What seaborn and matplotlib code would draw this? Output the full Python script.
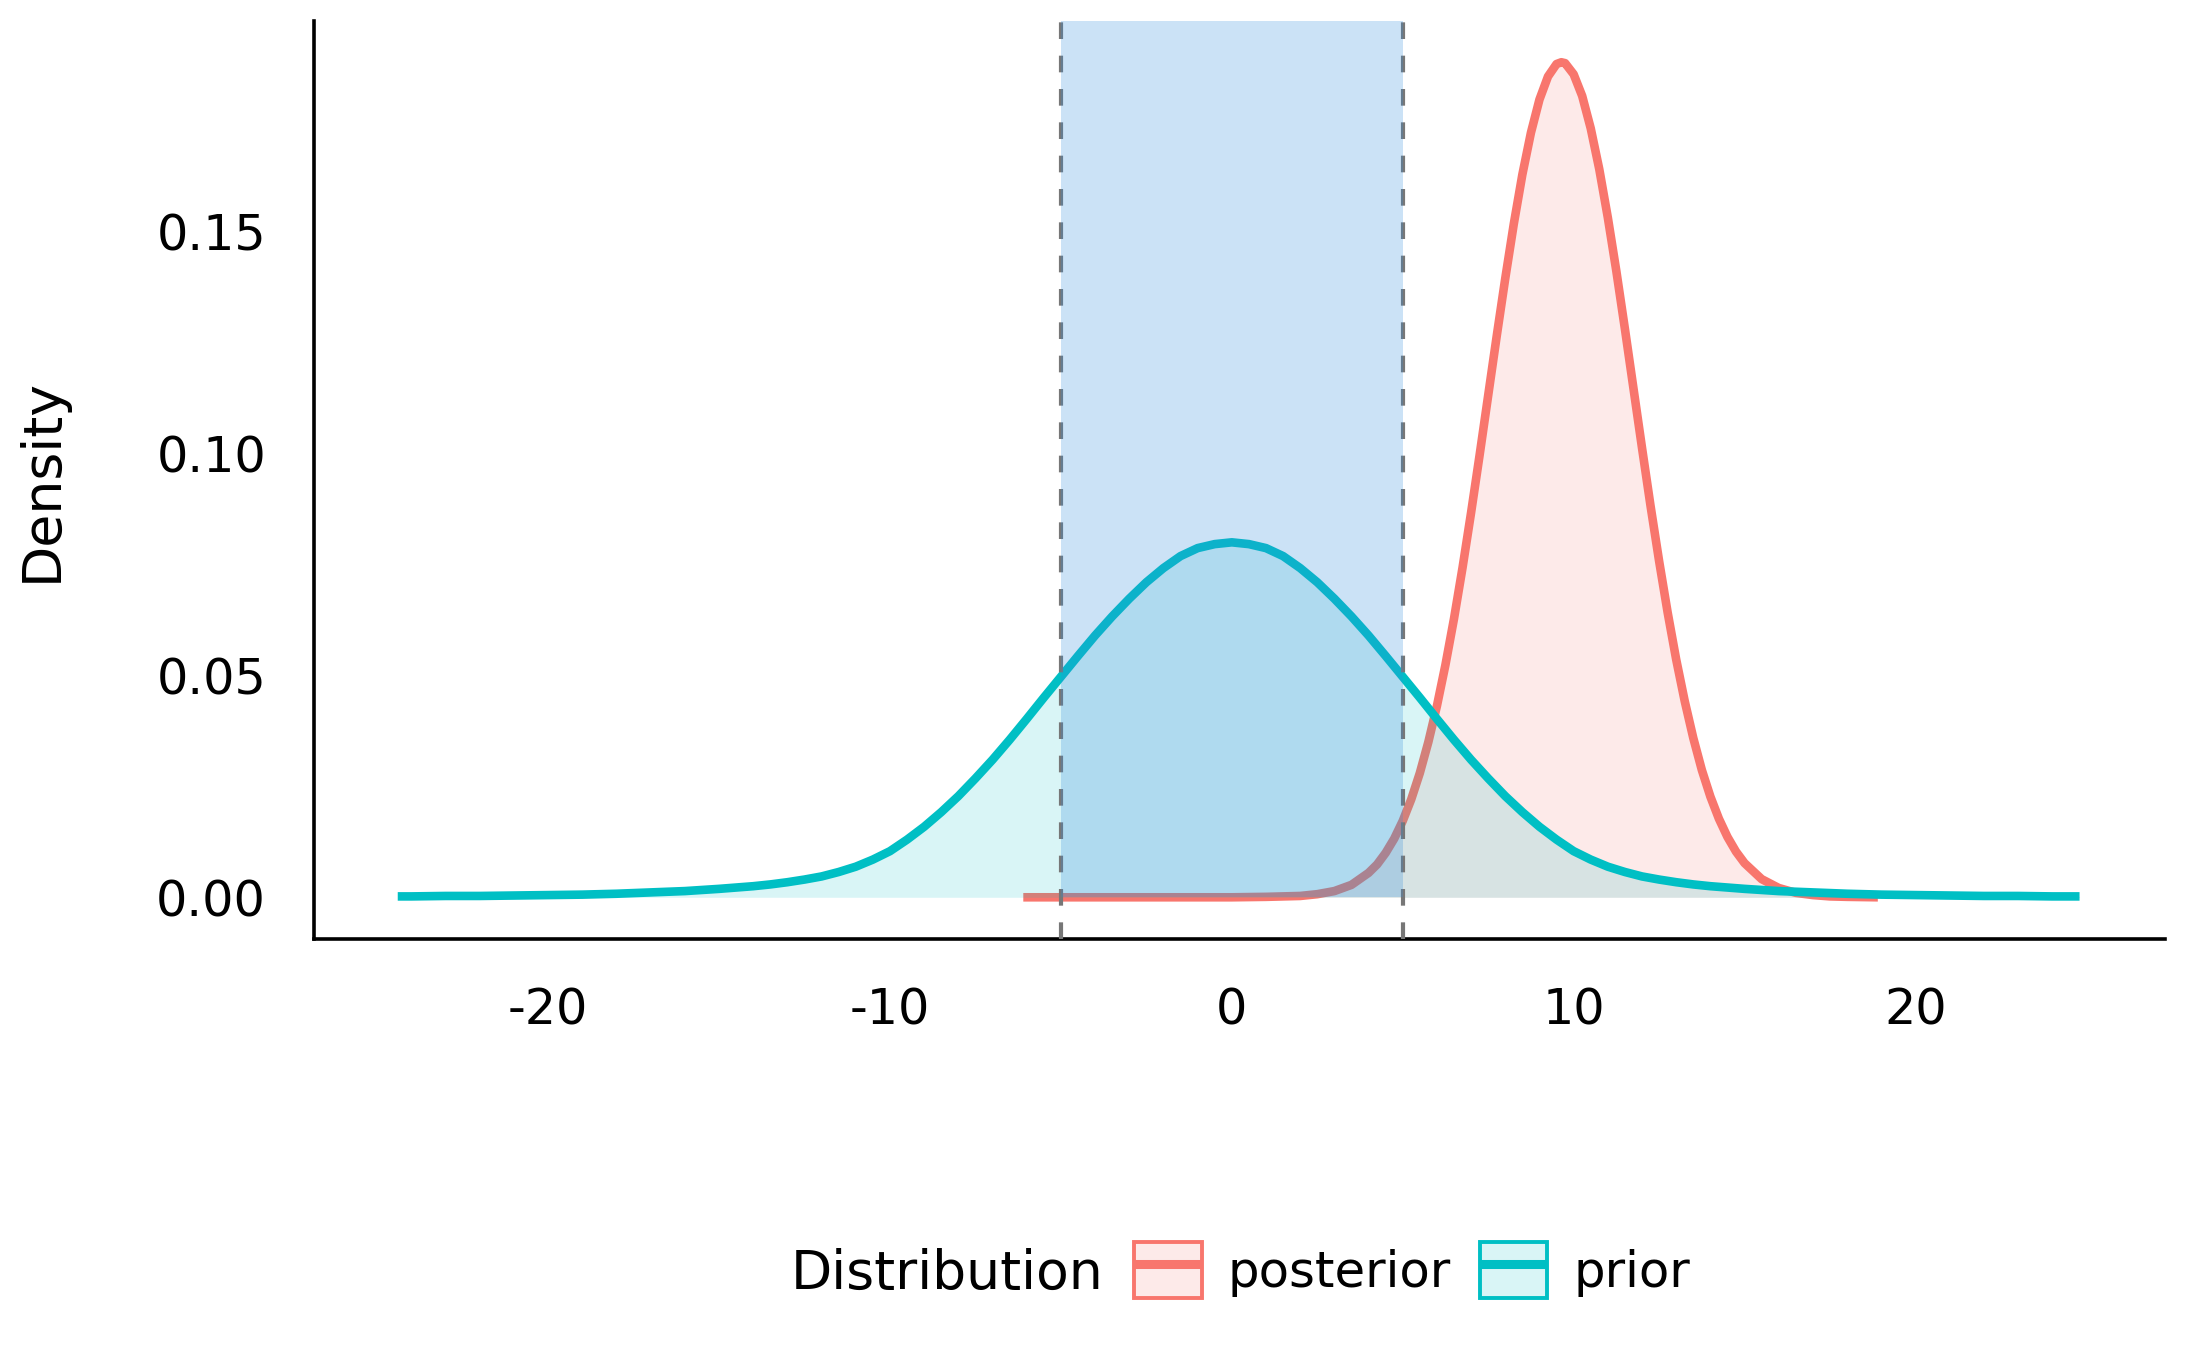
import matplotlib
matplotlib.use("Agg")
import matplotlib.pyplot as plt
from matplotlib.lines import Line2D
from matplotlib.patches import Patch
from matplotlib.legend_handler import HandlerTuple
from matplotlib.colors import to_rgb
import pandas as pd
import seaborn as sns

# density curves, values
prior_x = [-24.4, -24, -23, -22, -21, -20, -19, -18, -17, -16, -15, -14, -13.5, -13, -12.5,
           -12, -11.5, -11, -10.5, -10, -9.5, -9, -8.5, -8, -7.5, -7, -6.5, -6, -5.5, -5,
           -4.5, -4, -3.5, -3, -2.5, -2, -1.5, -1, -0.5, 0,
           0.5, 1, 1.5, 2, 2.5, 3, 3.5, 4, 4.5, 5, 5.5, 6, 6.5, 7, 7.5, 8, 8.5, 9, 9.5, 10,
           10.5, 11, 11.5, 12, 12.5, 13, 13.5, 14, 15, 16, 17, 18, 19, 20, 21, 22, 23, 24, 24.8]
prior_density = [0.0002, 0.0002, 0.0003, 0.0003, 0.0004, 0.0005, 0.0006, 0.0008, 0.0011, 0.0014, 0.0019, 0.0025, 0.0029, 0.0034, 0.0040,
                 0.0047, 0.0057, 0.0069, 0.0085, 0.0104, 0.0130, 0.0159, 0.0192, 0.0228, 0.0268, 0.0310, 0.0355, 0.0402, 0.0450, 0.0497,
                 0.0544, 0.0590, 0.0633, 0.0673, 0.0710, 0.0742, 0.0769, 0.0787, 0.0796, 0.0800,
                 0.0796, 0.0787, 0.0769, 0.0742, 0.0710, 0.0673, 0.0633, 0.0590, 0.0544, 0.0497, 0.0450, 0.0402, 0.0355, 0.0310,
                 0.0268, 0.0228, 0.0192, 0.0159, 0.0130, 0.0104,
                 0.0085, 0.0069, 0.0057, 0.0047, 0.0040, 0.0034, 0.0029, 0.0025, 0.0019, 0.0014, 0.0011, 0.0008, 0.0006, 0.0005,
                 0.0004, 0.0003, 0.0003, 0.0002, 0.0002]

posterior_x = [-6.1, -4, -2, 0, 1, 2, 2.5, 3, 3.5, 4, 4.25, 4.5, 4.75, 5, 5.25, 5.5, 5.75, 6, 6.25, 6.5, 6.75,
               7, 7.25, 7.5, 7.75, 8, 8.25, 8.5, 8.75, 9, 9.25, 9.5, 9.64, 9.75, 10, 10.25, 10.5, 10.75,
               11, 11.25, 11.5, 11.75, 12, 12.25, 12.5, 12.75, 13, 13.25, 13.5, 13.75, 14, 14.25, 14.5, 14.75,
               15, 15.5, 16, 16.5, 17, 17.5, 18, 18.9]
posterior_density = [0.0, 0.0, 0.0, 0.0, 0.0001, 0.0003, 0.0007, 0.0014, 0.0028, 0.0055, 0.0074, 0.0100, 0.0132,
                     0.0172, 0.0221, 0.0280, 0.0350, 0.0431, 0.0524, 0.0628, 0.0743,
                     0.0867, 0.0997, 0.1131, 0.1265, 0.1395, 0.1518, 0.1629, 0.1723, 0.1798, 0.1850, 0.1878,
                     0.1882, 0.1880, 0.1855, 0.1806, 0.1733, 0.1641,
                     0.1532, 0.1411, 0.1281, 0.1147, 0.1013, 0.0882, 0.0758, 0.0642, 0.0536, 0.0442, 0.0359,
                     0.0287, 0.0227, 0.0177, 0.0136, 0.0103,
                     0.0077, 0.0041, 0.0021, 0.0010, 0.0005, 0.0002, 0.0001, 0.0]

dist_names = ["posterior", "prior"]
dist_colors = ["#F8766D", "#00BFC4"]
region = [-5, 5]
x_ticks = [-20, -10, 0, 10, 20]
y_ticks = [0.00, 0.05, 0.10, 0.15]

sns.set_theme(style="white")
plt.rcParams["font.family"] = ["DejaVu Sans"]
plt.rcParams["axes.unicode_minus"] = False
for key in ["text.color", "axes.labelcolor", "xtick.color", "ytick.color"]:
    plt.rcParams[key] = "black"

df = pd.concat([
    pd.DataFrame({"x": posterior_x, "density": posterior_density, "Distribution": "posterior"}),
    pd.DataFrame({"x": prior_x, "density": prior_density, "Distribution": "prior"}),
])

W, H = 2187, 1351
fig, ax = plt.subplots(figsize=(W / 100, H / 100), dpi=100)
fig.subplots_adjust(left=314 / W, right=2165 / W, bottom=1 - 939 / H, top=1 - 21 / H)

for i, (name, color) in enumerate(zip(dist_names, dist_colors)):
    sub = df[df["Distribution"] == name]
    ax.fill_between(sub["x"], 0, sub["density"], color=color, alpha=0.15,
                    linewidth=0, zorder=1 + 2 * i)
    sns.lineplot(data=sub, x="x", y="density", color=color, linewidth=6.2,
                 estimator=None, sort=False, legend=False, ax=ax,
                 zorder=2 + 2 * i, solid_capstyle="butt", solid_joinstyle="round")

ylo, yhi = -0.0094, 0.1975
ax.set_xlim(-26.85, 27.3)
ax.set_ylim(ylo, yhi)

for v in region:
    ax.axvline(v, color="#777777", linestyle=(0, (4, 4)), linewidth=3.0, zorder=4.5)
ax.axvspan(region[0], region[1], ymin=(0 - ylo) / (yhi - ylo), ymax=1,
           color=(50 / 255, 140 / 255, 220 / 255), alpha=0.25, linewidth=0, zorder=5)

ax.set_xticks(x_ticks)
ax.set_xticklabels([str(t) for t in x_ticks])
ax.set_yticks(y_ticks)
ax.set_yticklabels([f"{t:.2f}" for t in y_ticks])
ax.tick_params(axis="both", length=0, pad=34.5, labelsize=35.5)

ax.set_xlabel("")
ax.set_ylabel("Density", fontsize=38.6)
ax.yaxis.set_label_coords(-0.133, 0.5)

sns.despine(ax=ax)
for s in ["left", "bottom"]:
    ax.spines[s].set_color("black")
    ax.spines[s].set_linewidth(2.6)

handles = []
for color in dist_colors:
    handles.append((
        Patch(facecolor=(*to_rgb(color), 0.15), edgecolor=color, linewidth=2.8),
        Line2D([], [], color=color, linewidth=6.5, solid_capstyle="butt"),
    ))
fig.legend(handles, dist_names, handler_map={tuple: HandlerTuple(ndivide=1)},
           ncol=2, frameon=False, fontsize=35.8, handlelength=1.36, handleheight=1.36,
           handletextpad=0.52, columnspacing=0.58, borderpad=0, borderaxespad=0,
           loc="center left", bbox_to_anchor=(1134 / W, 1 - 1270 / H))
fig.text(791 / W, 1 - 1289 / H, "Distribution", fontsize=38.6, ha="left", va="baseline")

fig.savefig("out.png", dpi=100, facecolor="white")
